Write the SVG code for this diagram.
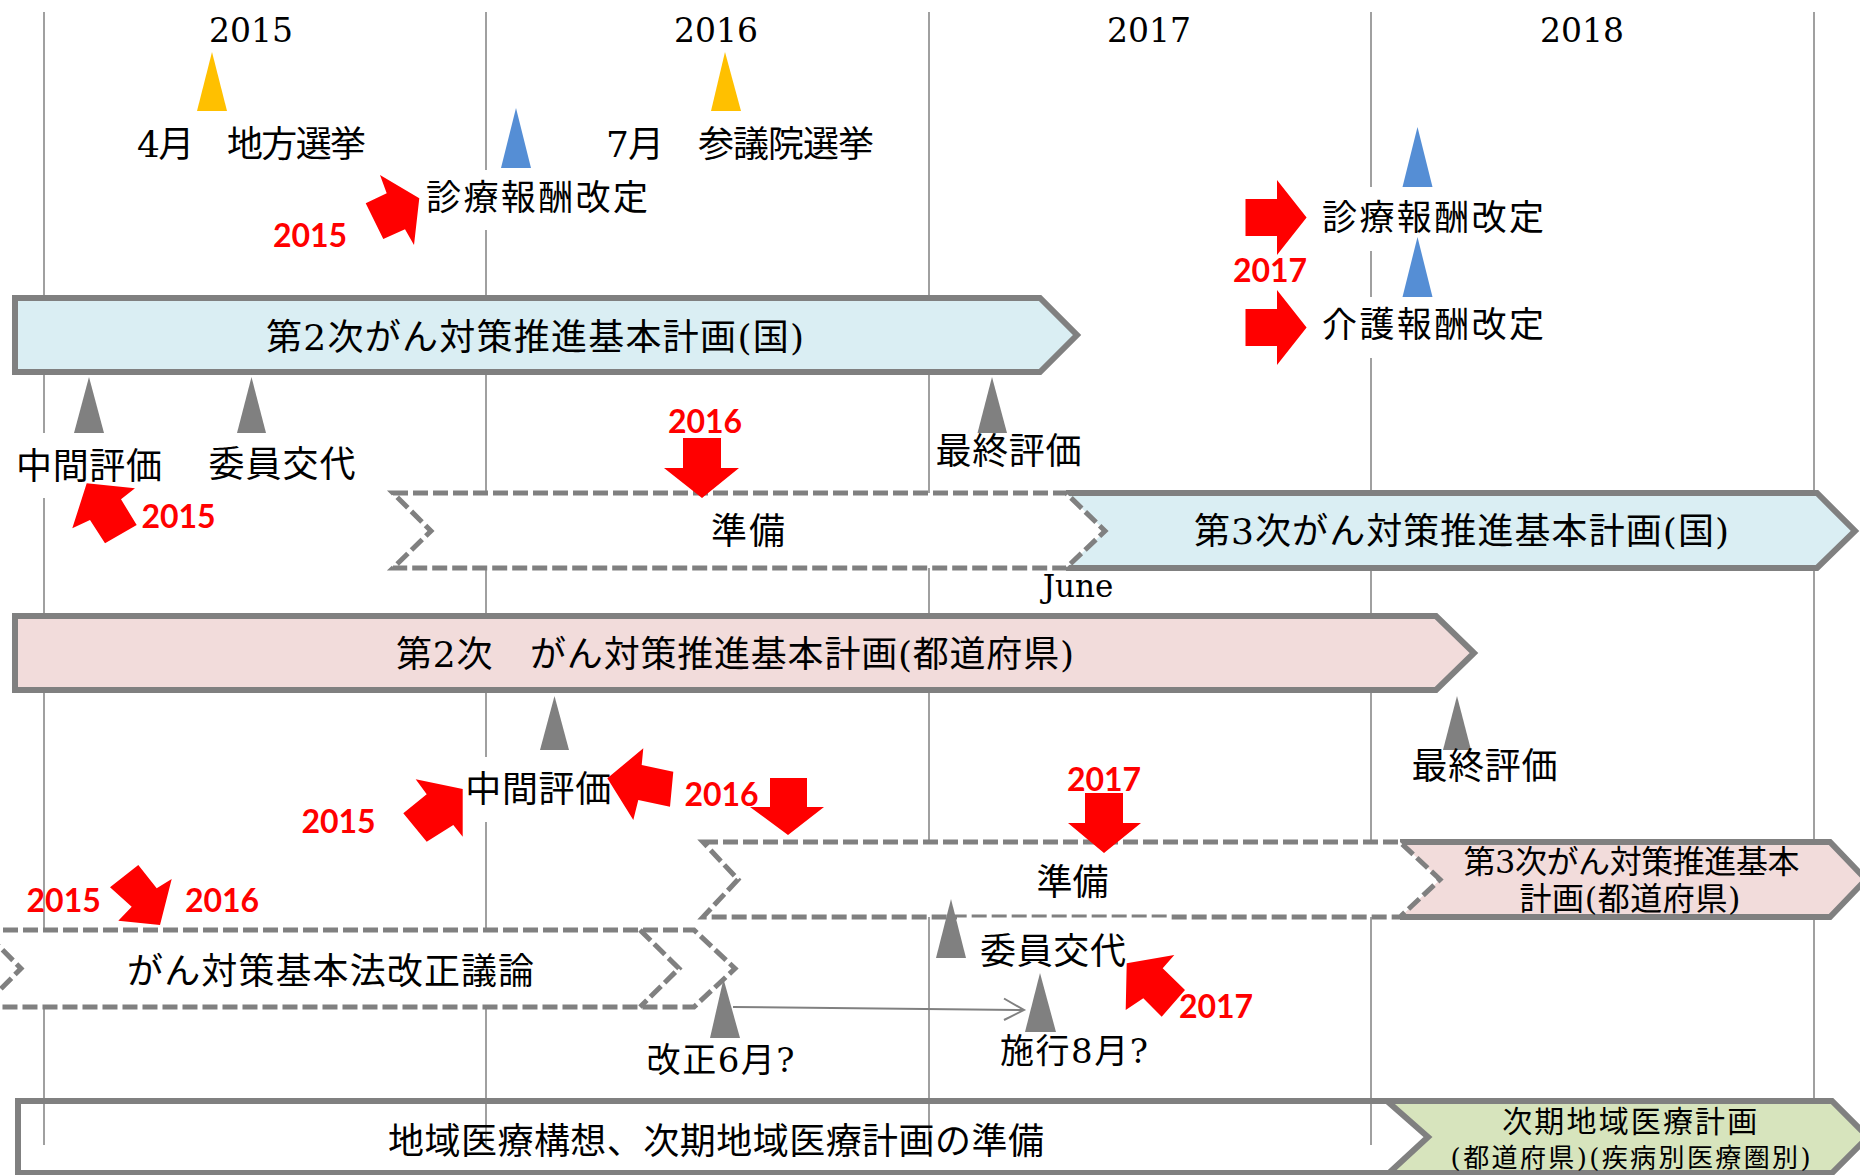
<svg xmlns="http://www.w3.org/2000/svg" width="1860" height="1175" viewBox="0 0 1860 1175">
<defs>
<style>
.grid{stroke:#A0A0A0;stroke-width:2;fill:none}
.bar{stroke:#808080;stroke-width:6;stroke-linejoin:miter}
.dash{fill:#fff;stroke:#808080;stroke-width:5;stroke-dasharray:15 5}
.dashl{fill:none;stroke:#808080;stroke-width:5;stroke-dasharray:15 5}
.bg{fill:#fff}
.jp{font-family:'DejaVu Serif','Noto Sans CJK JP',sans-serif;font-size:36px;fill:#000;text-anchor:middle}
.st{text-anchor:start}
.s35{font-size:35px}
.s34{font-size:34px}
.s32{font-size:32px}
.s30{font-size:30px}
.s26{font-size:26px}
.yr{font-family:'DejaVu Serif',serif;font-size:33px;fill:#000;text-anchor:middle}
.jn{font-size:31px}
.red{font-family:Lato,'Liberation Sans',sans-serif;font-weight:bold;font-size:32px;fill:#FF0000;text-anchor:middle}
.ra{fill:#FF0000}
.gt{fill:#808080}
.bt{fill:#558ED5}
.yt{fill:#FFC000}
.conn{stroke:#808080;stroke-width:2;fill:none}
</style>
</defs>
<rect width="1860" height="1175" fill="#fff"/>

<g id="grid">
<line class="grid" x1="44" y1="12" x2="44" y2="1145"/>
<line class="grid" x1="486" y1="12" x2="486" y2="1145"/>
<line class="grid" x1="929" y1="12" x2="929" y2="1145"/>
<line class="grid" x1="1371" y1="12" x2="1371" y2="1145"/>
<line class="grid" x1="1814" y1="12" x2="1814" y2="1145"/>
</g>

<g id="years">
<text class="yr" x="251" y="42">2015</text>
<text class="yr" x="716" y="42">2016</text>
<text class="yr" x="1149" y="42">2017</text>
<text class="yr" x="1582" y="42">2018</text>
</g>

<g id="elections">
<polygon class="yt" points="212,52 197,111 227,111"/>
<polygon class="yt" points="725,52 711,111 741,111"/>
<text class="jp st" x="137" y="157" textLength="229">4月　地方選挙</text>
<text class="jp st" x="606" y="157" textLength="268">7月　参議院選挙</text>
</g>

<g id="fee2015">
<rect class="bg" x="422" y="170" width="230" height="60"/>
<polygon class="bt" points="516,108 501,168 531,168"/>
<text class="jp s35" x="537" y="210" textLength="222">診療報酬改定</text>
<polygon class="ra" points="419.3,198.3 414,245 405,229.3 383.3,239 365.7,203.3 386.7,193.3 380,175"/>
<text class="red" x="310" y="247">2015</text>
</g>

<g id="fee2017">
<rect class="bg" x="1316" y="187" width="234" height="64"/>
<rect class="bg" x="1316" y="297" width="234" height="61"/>
<polygon class="bt" points="1417.5,127 1402.5,187 1432.5,187"/>
<polygon class="bt" points="1417.5,237 1402.5,297 1432.5,297"/>
<text class="jp s35" x="1433" y="230" textLength="222">診療報酬改定</text>
<text class="jp s35" x="1433" y="337" textLength="222">介護報酬改定</text>
<polygon class="ra" points="1245.5,199 1277,199 1277,180 1306.6,217.5 1277,255 1277,236 1245.5,236"/>
<polygon class="ra" points="1245.5,309 1277,309 1277,290 1306.6,327.5 1277,365 1277,346 1245.5,346"/>
<text class="red" x="1270" y="282">2017</text>
</g>

<g id="plan2-national">
<path class="bar" fill="#DAEEF3" d="M15,298 L1040,298 L1077,335 L1040,372 L15,372 Z"/>
<text class="jp" x="535" y="350" textLength="538">第2次がん対策推進基本計画(国)</text>
</g>

<g id="national-markers">
<rect class="bg" x="10" y="433" width="158" height="65"/>
<polygon class="gt" points="89,377 74,433 104,433"/>
<polygon class="gt" points="251.5,377 237,433 266,433"/>
<polygon class="gt" points="992,377 977.5,433 1007,433"/>
<text class="jp" x="89" y="479" textLength="146">中間評価</text>
<text class="jp" x="282" y="477" textLength="147">委員交代</text>
<text class="jp" x="1008.5" y="464" textLength="146">最終評価</text>
<polygon class="ra" points="86.7,483.3 135,488.3 121,499.3 136.7,525 105,543.3 90,520 72.3,528.3"/>
<text class="red" x="178.5" y="528">2015</text>
</g>

<g id="plan3-national">
<path fill="#DAEEF3" d="M1066,493 L1817,493 L1855,531 L1817,568 L1066,568 L1105,531 Z"/>
<path class="bar" fill="none" d="M1066,493 L1817,493 L1855,531 L1817,568 L1066,568"/>
<text class="jp" x="1461.5" y="544" textLength="535">第3次がん対策推進基本計画(国)</text>
</g>

<g id="prep-national">
<path class="dash" d="M393,493 L1066,493 L1105,531 L1066,568 L393,568 L431,531 Z"/>
<text class="jp" x="748" y="544" textLength="74">準備</text>
<polygon class="ra" points="683,438 721,438 721,468 739,468 702,498 664,468 683,468"/>
<text class="red" x="705" y="433">2016</text>
<text class="yr jn" x="1078" y="597">June</text>
</g>

<g id="plan2-prefecture">
<path class="bar" fill="#F2DCDB" d="M15,616 L1436,616 L1474,653 L1436,690 L15,690 Z"/>
<text class="jp" x="735" y="667" textLength="678">第2次　がん対策推進基本計画(都道府県)</text>
</g>

<g id="prefecture-markers">
<rect class="bg" x="460" y="757" width="157" height="65"/>
<polygon class="gt" points="554.5,696 540,750 569,750"/>
<polygon class="gt" points="1457,696 1443,750 1471,750"/>
<text class="jp" x="538.3" y="802" textLength="146">中間評価</text>
<text class="jp" x="1484.5" y="779" textLength="146">最終評価</text>
<polygon class="ra" points="462.7,789 462.7,836.7 453.3,825 426.7,841.7 403.3,813.3 426.7,794.3 415.7,779.3"/>
<text class="red" x="338.5" y="833">2015</text>
<polygon class="ra" points="607.3,778.3 643.3,748.3 641.7,765 673.3,771.7 670,806.7 638.3,800 633.3,820"/>
<text class="red" x="721.5" y="806">2016</text>
<polygon class="ra" points="770,778 807,778 807,807 824,807 788,835 750,807 770,807"/>
</g>

<g id="plan3-prefecture">
<path fill="#F2DCDB" d="M1400,842 L1830,842 L1866,879.5 L1830,917 L1400,917 L1440,879.5 Z"/>
<path class="bar" fill="none" d="M1400,842 L1830,842 L1866,879.5 L1830,917 L1400,917"/>
<text class="jp s32" x="1631.5" y="873" textLength="336">第3次がん対策推進基本</text>
<text class="jp s32" x="1630" y="910" textLength="221">計画(都道府県)</text>
</g>

<g id="prep-prefecture">
<path class="dash" d="M703,842 L1400,842 L1440,879.5 L1400,917 L703,917 L738,879.5 Z"/>
<text class="jp" x="1072.4" y="895" textLength="72">準備</text>
<polygon class="ra" points="1085,793 1123,793 1123,823 1141,823 1104,853 1068,823 1085,823"/>
<text class="red" x="1104" y="791">2017</text>
</g>

<g id="law-debate">
<path class="dash" d="M-17,930 L694,930 L735,968.5 L694,1007 L-17,1007 L21,968.5 Z"/>
<path class="dashl" d="M640,930 L679,968.5 L640,1007"/>
<text class="jp" x="330.6" y="984" textLength="407">がん対策基本法改正議論</text>
<polygon class="ra" points="138.3,865 156.7,888.3 171.7,879 160,925 118.3,920.7 131.7,906.7 110,887.3"/>
<text class="red" x="63.7" y="911.7">2015</text>
<text class="red" x="222" y="912">2016</text>
</g>

<g id="connectors">
<line class="conn" x1="733" y1="1007" x2="1023" y2="1010"/>
<polyline class="conn" points="1004,998.5 1024,1010 1004,1020"/>
</g>

<g id="amend">
<polygon class="gt" points="723.5,979 710,1038 740,1038"/>
<text class="jp s34" x="720.6" y="1072" textLength="148">改正6月?</text>
</g>

<g id="committee-enforce">
<rect class="bg" x="957" y="917.5" width="213" height="55"/>
<polygon class="gt" points="951,899 936,958 966,958"/>
<text class="jp" x="1053" y="964" textLength="146">委員交代</text>
<polygon class="gt" points="1040,973 1025,1032 1056,1032"/>
<text class="jp s34" x="1074" y="1063" textLength="148">施行8月?</text>
<polygon class="ra" points="1126.7,963.3 1174.3,955 1162.7,968.3 1185,990 1161.7,1016.7 1143.3,998.3 1125.7,1010"/>
<text class="red" x="1216" y="1018">2017</text>
</g>

<g id="regional-prep">
<path class="bar" fill="none" d="M1387,1101 L18,1101 L18,1173 L1389,1173"/>
<text class="jp" x="716" y="1154" textLength="656">地域医療構想、次期地域医療計画の準備</text>
</g>

<g id="regional-plan">
<path class="bar" fill="#D7E4BD" d="M1387,1101 L1832,1101 L1868,1137 L1832,1173 L1389,1173 L1428,1137 Z"/>
<text class="jp s30" x="1629.7" y="1132" textLength="255">次期地域医療計画</text>
<text class="jp s26" x="1630.6" y="1167" textLength="360">(都道府県)(疾病別医療圏別)</text>
</g>
</svg>
